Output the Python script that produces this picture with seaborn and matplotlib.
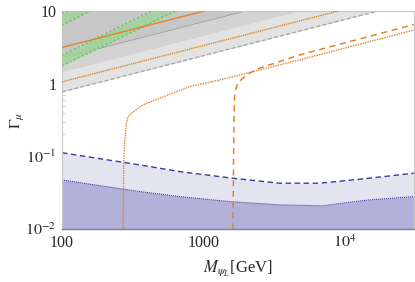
import matplotlib
matplotlib.use("Agg")
import matplotlib.pyplot as plt
import seaborn as sns
from matplotlib.ticker import LogLocator, NullFormatter, FixedLocator, FixedFormatter

# straight bounds, read at the two ends of the x range
m_ends = [100, 30600]
gray_low = [0.77, 13.4]
gray_mid = [1.45, 25.3]
gray_high = [2.25, 39.3]
orange_upper = [3.15, 55.0]
orange_lower = [1.06, 18.5]

# green bands, read at M = 100 and M = 1000
m_green = [100, 1000]
green1_lo = [6.4, 60.8]
green1_hi = [9.3, 88.0]
green2_lo = [1.77, 15.3]
green2_hi = [2.48, 22.5]

# threshold curves (orange)
m_dotted = [270, 271, 273, 278, 285.5, 291.6, 309.7, 371.9, 489.7, 796, 1297, 4744, 30600]
g_dotted = [0.01, 0.025, 0.089, 0.168, 0.288, 0.348, 0.392, 0.509, 0.63, 0.91, 1.124, 2.12, 5.48]
m_dashed = [1613, 1627, 1640, 1653, 1699, 1744, 1891, 2109, 2480, 4744, 30600]
g_dashed = [0.01, 0.089, 0.317, 0.656, 0.873, 1.01, 1.187, 1.39, 1.63, 2.48, 6.52]

# blue exclusion bounds
m_blue_solid = [100, 185, 354, 677, 1524, 3427, 6887, 9525, 14760, 30600]
g_blue_solid = [0.0473, 0.0395, 0.0327, 0.0279, 0.0238, 0.0215, 0.0208, 0.0227, 0.0251, 0.0279]
m_blue_dash = [100, 354, 677, 1600, 3427, 6561, 8650, 14760, 30600]
g_blue_dash = [0.112, 0.0762, 0.0617, 0.050, 0.0427, 0.0427, 0.0449, 0.050, 0.0586]

x_ticks = [100, 1000, 10000]
x_labels = ["100", "1000", r"$10^4$"]
y_ticks = [0.01, 0.1, 1, 10]
y_labels = [r"$10^{-2}$", r"$10^{-1}$", "1", "10"]

sns.set_style("ticks")
plt.rcParams["font.family"] = ["Liberation Serif", "DejaVu Serif"]
plt.rcParams["mathtext.fontset"] = "stix"

fig = plt.figure(figsize=(4.15, 2.82), dpi=100)
ax = fig.add_axes([62 / 415, 53 / 282, 352 / 415, 218 / 282])
ax.set_xscale("log")
ax.set_yscale("log")
ax.set_xlim(100, 30600)
ax.set_ylim(0.01, 10)
top = 100

orange = "#e0832a"
navy = "#3a3a9a"

# gray excluded region
ax.fill_between(m_ends, gray_low, gray_mid, color="#e2e2e2", lw=0, zorder=1)
ax.fill_between(m_ends, gray_mid, gray_high, color="#d3d3d3", lw=0, zorder=1)
ax.fill_between(m_ends, gray_high, [top, top], color="#c7c7c7", lw=0, zorder=1)
sns.lineplot(x=m_ends, y=gray_low, ax=ax, color="#a8a8a8", lw=1, linestyle=(0, (3, 1.5)), zorder=2)
sns.lineplot(x=m_ends, y=gray_high, ax=ax, color="#a4a4a4", lw=0.7, zorder=2)

# green bands
for lo, hi in [(green1_lo, green1_hi), (green2_lo, green2_hi)]:
    ax.fill_between(m_green, lo, hi, color="#9fd39a", alpha=0.85, lw=0, zorder=3)
    sns.lineplot(x=m_green, y=lo, ax=ax, color="#6cc06a", lw=1.2, linestyle=":", zorder=3)
    sns.lineplot(x=m_green, y=hi, ax=ax, color="#6cc06a", lw=1.2, linestyle=":", zorder=3)

# orange straight lines
sns.lineplot(x=m_ends, y=orange_upper, ax=ax, color=orange, lw=1, zorder=4)
sns.lineplot(x=m_ends, y=orange_lower, ax=ax, color=orange, lw=1, linestyle=(0, (1, 0.6)), zorder=4)

# blue regions
ax.fill_between(m_blue_dash, 0.01, g_blue_dash, color="#e4e4f1", lw=0, zorder=1)
ax.fill_between(m_blue_solid, 0.01, g_blue_solid, color="#b1b1d9", lw=0, zorder=1)
sns.lineplot(x=m_blue_dash, y=g_blue_dash, ax=ax, sort=False, color=navy, lw=1,
             linestyle=(0, (4, 2.5)), zorder=2)
sns.lineplot(x=m_blue_solid, y=g_blue_solid, ax=ax, sort=False, color=navy, lw=0.8,
             linestyle=(0, (1, 0.8)), zorder=2)

# orange threshold curves
sns.lineplot(x=m_dotted, y=g_dotted, ax=ax, sort=False, color=orange, lw=1,
             linestyle=(0, (1, 0.8)), zorder=5)
sns.lineplot(x=m_dashed, y=g_dashed, ax=ax, sort=False, color=orange, lw=1.1,
             linestyle=(0, (4, 3)), zorder=5)

# axes styling
ax.xaxis.set_major_locator(FixedLocator(x_ticks))
ax.xaxis.set_major_formatter(FixedFormatter(x_labels))
ax.yaxis.set_major_locator(FixedLocator(y_ticks))
ax.yaxis.set_major_formatter(FixedFormatter(y_labels))
ax.xaxis.set_minor_locator(LogLocator(base=10, subs=range(2, 10)))
ax.yaxis.set_minor_locator(LogLocator(base=10, subs=range(2, 10)))
ax.xaxis.set_minor_formatter(NullFormatter())
ax.yaxis.set_minor_formatter(NullFormatter())
ax.tick_params(which="both", direction="in", color="#b8b8b8", labelsize=11.5, pad=4,
               top=False, right=False)
ax.tick_params(which="major", length=5, width=0.7)
ax.tick_params(which="minor", length=2.5, width=0.5)
for side in ["top", "right", "left"]:
    ax.spines[side].set_color("#c8c8c8")
    ax.spines[side].set_linewidth(0.8)
ax.spines["bottom"].set_color("#7a7ab8")
ax.spines["bottom"].set_linewidth(1)

ax.set_xlabel(r"$M_{\psi_L}$[GeV]", fontsize=12, labelpad=5)
ax.set_ylabel(r"$\Gamma_\mu$", fontsize=11.5)
ax.yaxis.set_label_coords(-0.1, 0.5)
ax.grid(False)

fig.savefig("out.png", dpi=100)
